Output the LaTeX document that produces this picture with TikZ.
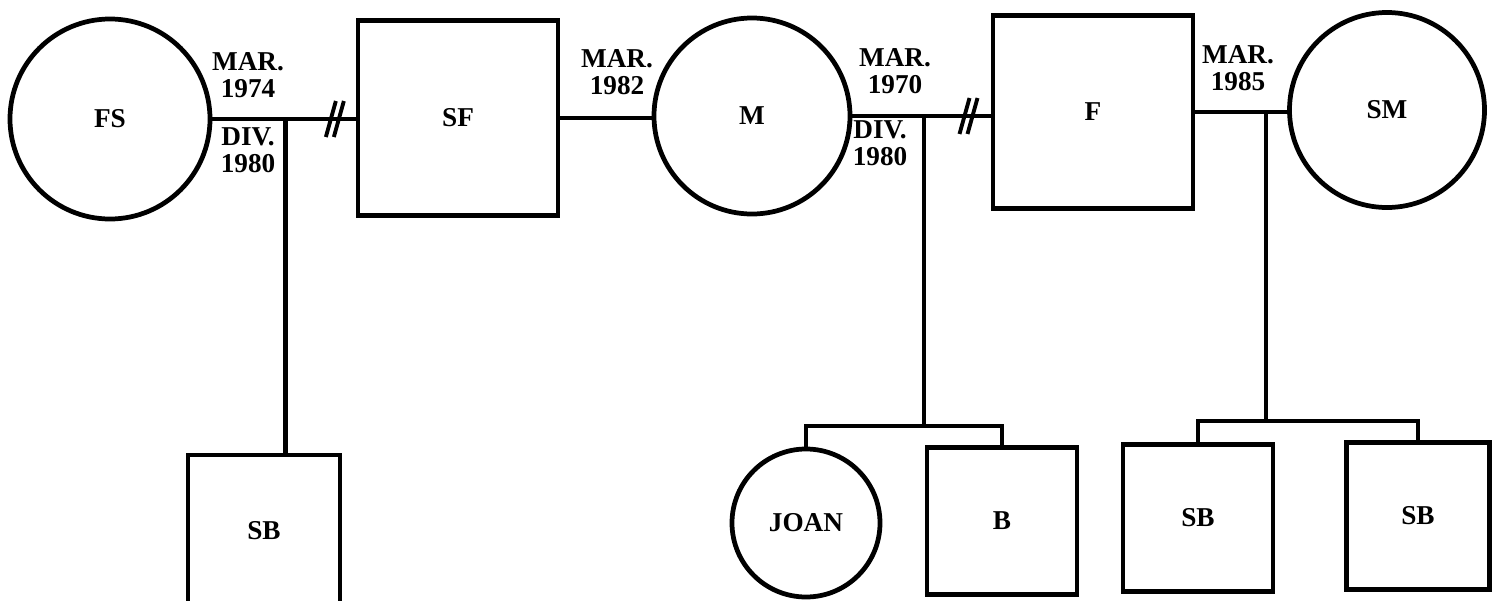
\documentclass[tikz,border=0pt]{standalone}
\usepackage{fontspec}
\setmainfont{Liberation Serif}
\usetikzlibrary{positioning}

\begin{document}
\begin{tikzpicture}[
  x=0.2mm, y=-0.2mm,
  every node/.style={font=\bfseries\fontsize{15.5}{15.5}\selectfont},
  female/.style={draw,circle,line width=2.7pt,inner sep=0pt},
  male/.style={draw,rectangle,line width=2.7pt,inner sep=0pt},
  tie/.style={line width=2.5pt},
  divmark/.style={line width=2.2pt},
  datelabel/.style={align=center,inner sep=0pt}
]
\useasboundingbox (0,0) rectangle (1501,601);
% parents' generation
\node[female,minimum size=40mm] (FS) at (110,119) {FS};
\node[male,minimum width=40mm,minimum height=39mm] (SF) at (458,118) {SF};
\node[female,minimum size=39.2mm] (M) at (752,116) {M};
\node[male,minimum width=40mm,minimum height=38.6mm] (F) at (1093,112) {F};
\node[female,minimum size=39mm] (SM) at (1387,110) {SM};
% children
\node[male,minimum width=30.4mm,minimum height=30.4mm] (SBa) at (264,531) {SB};
\node[female,minimum size=29.6mm] (JOAN) at (806,523) {JOAN};
\node[male,minimum width=30mm,minimum height=29.4mm] (B) at (1002,521) {B};
\node[male,minimum width=30mm,minimum height=29.4mm] (SBb) at (1198,518) {SB};
\node[male,minimum width=28.6mm,minimum height=29.4mm] (SBc) at (1418,516) {SB};
% marriages
\draw[tie] (SF.west |- FS.east) -- coordinate[pos=0.49] (j1) coordinate[pos=0.145] (d1) (FS.east);
\draw[tie] (SF.east) -- (SF.east -| M.west);
\draw[tie] (M.east) -- coordinate[pos=0.52] (j2) coordinate[pos=0.84] (d2) (M.east -| F.west);
\draw[tie] (F.east) -- coordinate[pos=0.77] (j3) (F.east -| SM.west);
% divorce marks
\foreach \d in {d1,d2}
  \draw[divmark] (\d) ++(-9,18) -- ++(10,-36) (\d) ++(-1,18) -- ++(10,-36);
% lines of descent
\draw[tie] (j1) -- (j1 |- SBa.north);
\coordinate (kids2) at (j2 |- 0,426);
\draw[tie] (j2) -- (kids2);
\draw[tie] (JOAN.north) |- (kids2) -| (B.north);
\coordinate (kids3) at (j3 |- 0,421);
\draw[tie] (j3) -- (kids3);
\draw[tie] (SBb.north) |- (kids3) -| (SBc.north);
% dates
\node[datelabel] (mar1) at (248,75) {MAR.\\1974};
\node[datelabel] (div1) at (248,150) {DIV.\\1980};
\node[datelabel] (mar2) at (617,72) {MAR.\\1982};
\node[datelabel] (mar3) at (895,71) {MAR.\\1970};
\node[datelabel] (div2) at (880,143) {DIV.\\1980};
\node[datelabel] (mar4) at (1238,68) {MAR.\\1985};
\end{tikzpicture}
\end{document}
